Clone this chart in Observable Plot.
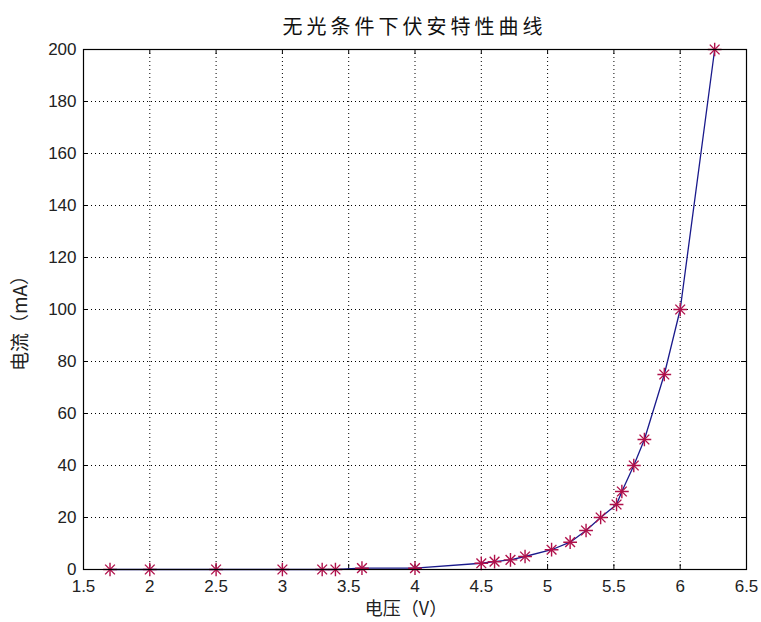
<!DOCTYPE html>
<html>
<head>
<meta charset="utf-8">
<script src="https://cdn.jsdelivr.net/npm/d3@7"></script>
<script src="https://cdn.jsdelivr.net/npm/@observablehq/plot@0.6"></script>
<style>
  html, body { margin: 0; padding: 0; background: #fff; }
  #title {
    box-sizing: border-box; width: 761px; height: 40px;
    padding-left: 83px; padding-right: 15px;
    text-align: center; font-family: "Noto Sans CJK SC", sans-serif;
    font-size: 20px; letter-spacing: 4px; line-height: 40px; padding-top: 6px; color: #111;
  }
  svg { display: block; }
</style>
</head>
<body>
<div id="title">无光条件下伏安特性曲线</div>
<div id="chart"></div>
<script>
// Data
const voltage = [1.7, 2.0, 2.5, 3.0, 3.3, 3.4, 3.6, 4.0, 4.5, 4.6, 4.72, 4.83, 5.03, 5.17, 5.29, 5.40, 5.52, 5.56, 5.65, 5.73, 5.88, 6.0, 6.26];
const current = [0, 0, 0, 0, 0, 0, 0.5, 0.5, 2.4, 3.0, 3.7, 5.0, 7.6, 10.5, 15, 20, 25, 30, 40, 50, 75, 100, 200];
const xTicks = [1.5, 2, 2.5, 3, 3.5, 4, 4.5, 5, 5.5, 6, 6.5];
const yTicks = [0, 20, 40, 60, 80, 100, 120, 140, 160, 180, 200];
const xLabel = "电压（V）";
const yLabel = "电流（mA）";

const data = voltage.map((v, i) => ({v, c: current[i]}));
const W = 761, H = 582, mT = 9, mB = 53, mL = 83, mR = 15;
const innerH = H - mT - mB, innerW = W - mL - mR;
const tickLen = 5;
const numFont = '"Liberation Sans", Arial, sans-serif';
const cjkFont = '"Noto Sans CJK SC", sans-serif';

const chart = Plot.plot({
  width: W, height: H,
  marginTop: mT, marginBottom: mB, marginLeft: mL, marginRight: mR,
  x: {domain: [1.5, 6.5], axis: null},
  y: {domain: [0, 200], axis: null},
  style: {background: "#fff"},
  marks: [
    // dotted grid
    Plot.ruleX(xTicks.slice(1, -1), {x: d => d, stroke: "#000", strokeWidth: 1, strokeDasharray: "1,3"}),
    Plot.ruleY(yTicks.slice(1, -1), {y: d => d, stroke: "#000", strokeWidth: 1, strokeDasharray: "1,3"}),
    // inward ticks (bottom, top, left, right)
    Plot.tickX(xTicks, {x: d => d, insetTop: innerH - tickLen, stroke: "#000"}),
    Plot.tickX(xTicks, {x: d => d, insetBottom: innerH - tickLen, stroke: "#000"}),
    Plot.tickY(yTicks, {y: d => d, insetRight: innerW - tickLen, stroke: "#000"}),
    Plot.tickY(yTicks, {y: d => d, insetLeft: innerW - tickLen, stroke: "#000"}),
    // data line
    Plot.line(data, {x: "v", y: "c", stroke: "#1a1a8c", strokeWidth: 1.3}),
    // star markers (plus + times)
    Plot.dot(data, {x: "v", y: "c", symbol: "plus", r: 4.5, stroke: "#b0104a", strokeWidth: 1.4}),
    Plot.dot(data, {x: "v", y: "c", symbol: "times", r: 4.5, stroke: "#b0104a", strokeWidth: 1.4}),
    // frame
    Plot.frame({stroke: "#000", strokeWidth: 1.2}),
    // tick labels
    Plot.text(xTicks, {x: d => d, frameAnchor: "bottom", lineAnchor: "middle", dy: 17, text: d => String(d), fontSize: 17, fontFamily: numFont, fill: "#222"}),
    Plot.text(yTicks, {y: d => d, frameAnchor: "left", lineAnchor: "middle", dx: -7, textAnchor: "end", text: d => String(d), fontSize: 17, fontFamily: numFont, fill: "#222"}),
    // axis labels
    Plot.text([xLabel], {frameAnchor: "bottom", lineAnchor: "middle", textAnchor: "middle", dy: 40, dx: -9, text: d => d, fontSize: 18, fontFamily: cjkFont, fill: "#222"}),
    Plot.text([yLabel], {frameAnchor: "left", lineAnchor: "middle", textAnchor: "middle", dx: -63, dy: 9, rotate: -90, text: d => d, fontSize: 19, fontFamily: cjkFont, fill: "#222"})
  ]
});
document.getElementById("chart").appendChild(chart);
</script>
</body>
</html>
